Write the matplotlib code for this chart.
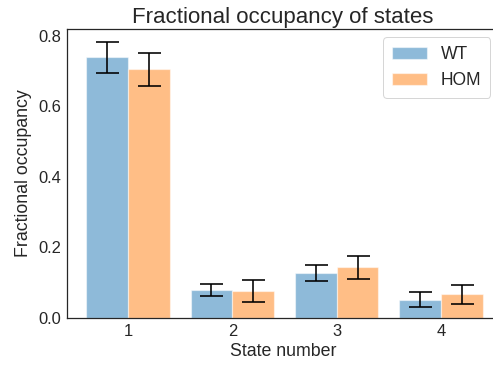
import matplotlib
matplotlib.use('Agg')
import matplotlib.pyplot as plt
import numpy as np

plt.rcParams['font.family'] = ['Liberation Sans', 'DejaVu Sans']

states = ['1', '2', '3', '4']
groups = ['WT', 'HOM']
wt_mean = [0.738, 0.078, 0.127, 0.052]
wt_err = [0.045, 0.017, 0.023, 0.021]
hom_mean = [0.704, 0.077, 0.144, 0.067]
hom_err = [0.047, 0.031, 0.033, 0.026]

colors = ['#1f77b4', '#ff7f0e']
text_col = '#262626'

fig = plt.figure(figsize=(493 / 72, 367 / 72), dpi=72)
# axes run a little past the right edge of the canvas
ax = fig.add_axes([67 / 493, 49 / 367, (499 - 67) / 493, (318 - 28.5) / 367])

x = np.arange(len(states))
w = 0.4
for i, (m, e, lbl) in enumerate([(wt_mean, wt_err, groups[0]), (hom_mean, hom_err, groups[1])]):
    pos = x - w / 2 + i * w
    ax.bar(pos, m, width=w, color=colors[i], alpha=0.5, edgecolor='white',
           linewidth=1.2, label=lbl)
    ax.errorbar(pos, m, yerr=e, fmt='none', ecolor='black', elinewidth=1.6,
                capsize=11.5, capthick=1.6)

ax.set_xlim(-0.585, 3.556)
ax.set_ylim(0, 0.82)
ax.set_xticks(x)
ax.set_xticklabels(states)
ax.set_yticks([0, 0.2, 0.4, 0.6, 0.8])
ax.tick_params(length=0, labelsize=16.5, pad=6, labelcolor=text_col)
for s in ax.spines.values():
    s.set_color(text_col)
    s.set_linewidth(1.25)

ax.set_xlabel('State number', fontsize=17.8, labelpad=4, color=text_col)
ax.set_ylabel('Fractional occupancy', fontsize=17.8, labelpad=6, color=text_col)
ax.set_title('Fractional occupancy of states', fontsize=22.2, pad=6, color=text_col)

leg = ax.legend(loc='upper right', fontsize=17.5, frameon=True, fancybox=True,
                edgecolor='#cccccc', handlelength=2.0, borderpad=0.5)
for t in leg.get_texts():
    t.set_color(text_col)

fig.savefig('out.png', dpi=72, facecolor='white')
